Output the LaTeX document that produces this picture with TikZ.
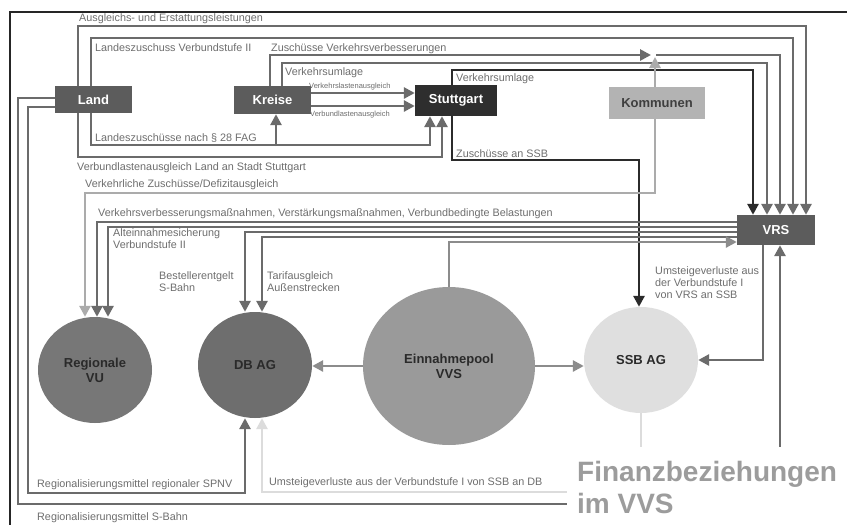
\documentclass[tikz,border=0pt]{standalone}
\usepackage{fontspec}
\setmainfont{Liberation Sans}
\usetikzlibrary{arrows.meta,shapes.geometric}
\pgfdeclarelayer{back}
\pgfdeclarelayer{bg}
\pgfsetlayers{back,bg,main}
\definecolor{cbox}{HTML}{5C5C5C}
\definecolor{cstg}{HTML}{2E2E2E}
\definecolor{ckomm}{HTML}{B3B3B3}
\definecolor{cvu}{HTML}{777777}
\definecolor{cdb}{HTML}{6E6E6E}
\definecolor{cpool}{HTML}{9A9A9A}
\definecolor{cssb}{HTML}{DFDFDF}
\definecolor{ctxt}{HTML}{2A2A2A}
\definecolor{clbl}{HTML}{6E6E6E}
\definecolor{ctitle}{HTML}{9C9C9C}
\definecolor{cline}{HTML}{6B6B6B}
\definecolor{cdark}{HTML}{2B2B2B}
\definecolor{ckline}{HTML}{ABABAB}
\definecolor{csline}{HTML}{DCDCDC}
\definecolor{cpline}{HTML}{8C8C8C}
\begin{document}
\begin{tikzpicture}[x=1pt,y=-1pt,
  box/.style={rectangle, draw=none, inner sep=0pt, text=white, font=\fontsize{13}{15}\selectfont\bfseries},
  circ/.style={ellipse, draw=none, inner sep=0pt, align=center, text=ctxt, font=\fontsize{13}{15}\selectfont\bfseries},
  lbl/.style={inner sep=0pt, anchor=west, text=clbl, font=\fontsize{10.8}{13}\selectfont},
  mlbl/.style={inner sep=0pt, anchor=north west, align=left, text=clbl, font=\fontsize{10.8}{12.5}\selectfont},
  slbl/.style={inner sep=0pt, anchor=west, text=clbl, font=\fontsize{7.5}{9}\selectfont},
  conn/.style={draw=cline, line width=2.8pt},
  darkc/.style={draw=cdark, line width=2.8pt},
  kommc/.style={draw=ckline, line width=2.8pt},
  ssbc/.style={draw=csline, line width=2.8pt},
  poolc/.style={draw=cpline, line width=2.8pt},
  arr/.style={-{Triangle[length=11pt,width=11pt]}}
]
\useasboundingbox (0,0) rectangle (847,525);
\begin{pgfonlayer}{back}
\fill[white] (0,0) rectangle (847,525);
\end{pgfonlayer}
\draw[line width=1.5pt, black!85] (10,525) -- (10,12) -- (847,12);

% boxes
\node[box, fill=cbox, minimum width=77pt, minimum height=27pt] (land) at (93.5,99.5) {Land};
\node[box, fill=cbox, minimum width=77pt, minimum height=28pt] (kreise) at (272.5,100) {Kreise};
\node[box, fill=cstg, minimum width=82pt, minimum height=31pt] (stuttgart) at (456,100.5) {Stuttgart};
\node[box, fill=ckomm, text=ctxt!90, minimum width=96pt, minimum height=32pt] (kommunen) at (657,103) {Kommunen};
\node[box, fill=cbox, minimum width=78pt, minimum height=30pt] (vrs) at (776,230) {VRS};

% circles
\node[circ, fill=cvu, minimum width=114pt, minimum height=106pt] (rvu) at (95,370) {Regionale\\VU};
\node[circ, fill=cdb, minimum width=114pt, minimum height=106pt] (db) at (255,365) {DB AG};
\node[circ, fill=cpool, minimum width=172pt, minimum height=158pt] (pool) at (449,366) {Einnahmepool\\VVS};
\node[circ, fill=cssb, minimum width=114pt, minimum height=106pt] (ssb) at (641,360) {SSB AG};

% labels
\node[lbl] (l1) at (79,19) {Ausgleichs- und Erstattungsleistungen};
\node[lbl] (l2) at (95,48) {Landeszuschuss Verbundstufe II};
\node[lbl] (l3) at (271,49) {Zuschüsse Verkehrsverbesserungen};
\node[lbl] (l4) at (285,73) {Verkehrsumlage};
\node[slbl] (l5) at (309,87) {Verkehrslastenausgleich};
\node[slbl] (l6) at (310,115) {Verbundlastenausgleich};
\node[lbl] (l7) at (456,79) {Verkehrsumlage};
\node[lbl] (l8) at (456,154) {Zuschüsse an SSB};
\node[lbl] (l9) at (95,138) {Landeszuschüsse nach § 28 FAG};
\node[lbl] (l10) at (77,168) {Verbundlastenausgleich Land an Stadt Stuttgart};
\node[lbl] (l11) at (85,185) {Verkehrliche Zuschüsse/Defizitausgleich};
\node[lbl] (l12) at (98,214) {Verkehrsverbesserungsmaßnahmen, Verstärkungsmaßnahmen, Verbundbedingte Belastungen};
\node[mlbl] (l13) at (113,228) {Alteinnahmesicherung\\Verbundstufe II};
\node[mlbl] (l14) at (159,271) {Bestellerentgelt\\S-Bahn};
\node[mlbl] (l15) at (267,271) {Tarifausgleich\\Außenstrecken};
\node[mlbl, font=\fontsize{10.8}{12.3}\selectfont] (l16) at (655,266) {Umsteigeverluste aus\\der Verbundstufe I\\von VRS an SSB};
\node[lbl] (l17) at (269,483) {Umsteigeverluste aus der Verbundstufe I von SSB an DB};
\node[lbl] (l18) at (37,485) {Regionalisierungsmittel regionaler SPNV};
\node[lbl] (l19) at (37,518) {Regionalisierungsmittel S-Bahn};

% title
\fill[white] (567,447) rectangle (847,525);
\node[inner sep=0pt, anchor=base west, text=ctitle, font=\fontsize{28}{32}\selectfont\bfseries] (title1) at (577,481) {Finanzbeziehungen};
\node[inner sep=0pt, anchor=base west, text=ctitle, font=\fontsize{28}{32}\selectfont\bfseries] (title2) at (577,513) {im VVS};

% connectors
\begin{pgfonlayer}{bg}
\draw[conn,arr] (land.north -| 78,0) |- (806,26) -- (vrs.north -| 806,0);
\draw[conn,arr] (land.north -| 91,0) |- (793,38) -- (vrs.north -| 793,0);
\draw[conn,arr] (kreise.north -| 270,0) |- (651,55);
\draw[conn,arr] (656,55) -| (vrs.north -| 780,0);
\draw[conn,arr] (kreise.north -| 282,0) |- (767,63) -- (vrs.north -| 767,0);
\draw[darkc,arr] (stuttgart.north -| 452,0) |- (753,70) -- (vrs.north -| 753,0);
\draw[kommc,arr] (kommunen.north -| 655,0) -- (655,57);
\draw[conn,arr] (kreise.east |- 0,93) -- (stuttgart.west |- 0,93);
\draw[conn,arr] (kreise.east |- 0,106) -- (stuttgart.west |- 0,106);
\draw[conn,arr] (land.south -| 91,0) |- (430,145) -- (stuttgart.south -| 430,0);
\draw[conn,arr] (276,146) -- (kreise.south -| 276,0);
\draw[conn,arr] (land.south -| 78,0) |- (442,157) -- (stuttgart.south -| 442,0);
\draw[darkc,arr] (stuttgart.south -| 452,0) |- (639,160) -- (ssb.north -| 639,0);
\draw[kommc,arr] (kommunen.south -| 655,0) |- (85,193) -- (rvu.north -| 85,0);
\draw[conn,arr] (vrs.west |- 0,222) -| (rvu.north -| 97,0);
\draw[conn,arr] (vrs.west |- 0,227) -| (rvu.north -| 108,0);
\draw[conn,arr] (vrs.west |- 0,232) -| (db.north -| 245,0);
\draw[conn,arr] (vrs.west |- 0,237) -| (db.north -| 262,0);
\draw[poolc,arr] (pool.north) |- (vrs.west |- 0,242);
\draw[conn,arr] (vrs.south -| 763,0) |- (ssb.east);
\draw[conn,arr] (land.west |- 0,98) -| (18,504) -| (vrs.south -| 780,0);
\draw[conn,arr] (land.west |- 0,107) -| (28,493) -| (db.south -| 245,0);
\draw[ssbc,arr] (ssb.south) |- (262,492) -- (db.south -| 262,0);
\draw[poolc,arr] (pool.west) -- (db.east |- pool.west);
\draw[poolc,arr] (pool.east) -- (ssb.west |- pool.east);
\end{pgfonlayer}
\end{tikzpicture}
\end{document}
